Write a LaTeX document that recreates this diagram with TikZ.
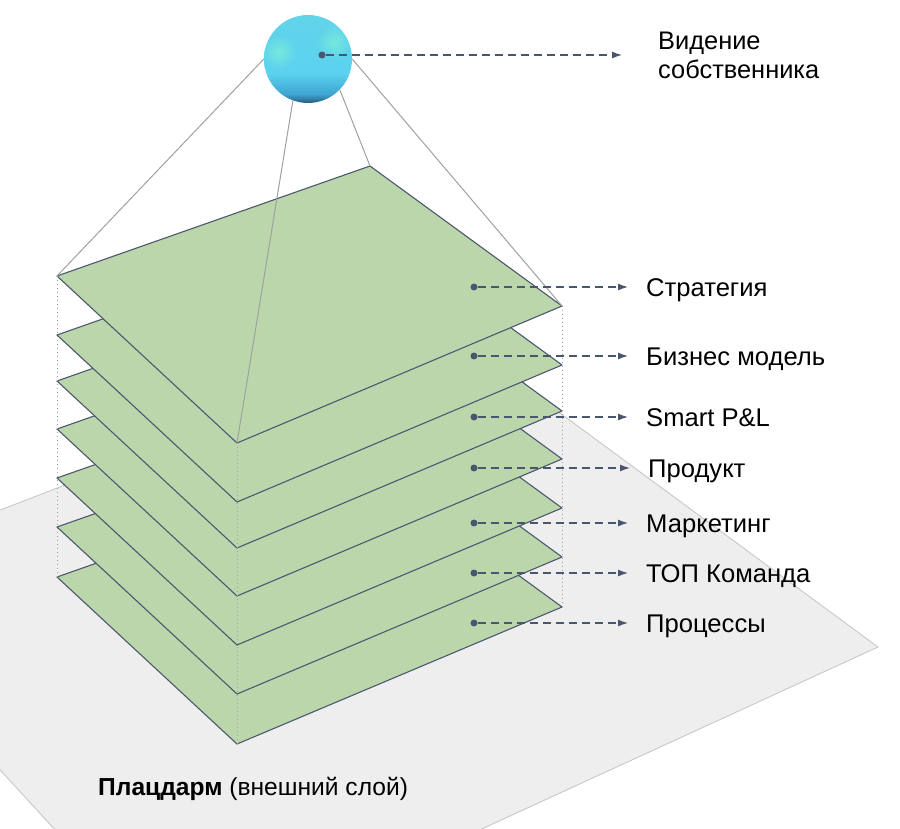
\documentclass[tikz,border=0pt]{standalone}
\usepackage{fontspec}
\setmainfont{Liberation Sans}
\usetikzlibrary{arrows.meta,positioning,fadings}

\definecolor{plate}{RGB}{188,214,171}
\definecolor{plateedge}{RGB}{75,88,112}
\definecolor{basegray}{RGB}{238,238,238}
\definecolor{baseedge}{RGB}{200,200,200}
\definecolor{wiregray}{RGB}{160,160,160}
\definecolor{pointercol}{RGB}{74,85,110}
\definecolor{sphtop}{RGB}{98,212,234}
\definecolor{sphmid}{RGB}{92,210,240}
\definecolor{sphlow}{RGB}{62,165,208}
\definecolor{sphdark}{RGB}{38,92,130}
\definecolor{sphglow}{RGB}{125,238,215}
\pgfdeclareverticalshading{spherefill}{100bp}{color(0bp)=(sphdark); color(25bp)=(sphdark); color(30bp)=(sphlow); color(42bp)=(sphmid); color(75bp)=(sphtop); color(100bp)=(sphtop)}
\tikzfading[name=glowfade,inner color=transparent!0,outer color=transparent!100]

\begin{document}
\begin{tikzpicture}[x=1pt,y=-1pt,
    plane/.style={fill=plate,draw=plateedge,line width=1.1pt,line join=round},
    wire/.style={draw=wiregray,line width=1pt},
    guide/.style={draw=wiregray,line width=0.9pt,dash pattern=on 1.2pt off 2.8pt},
    pointer/.style={draw=pointercol,line width=1.2pt,dash pattern=on 8pt off 5pt,
        -{Latex[length=10pt,width=7pt]},shorten >=18pt},
    dot/.style={circle,fill=pointercol,inner sep=0,minimum size=7pt},
    lbl/.style={anchor=west,inner sep=0,text height=18.2pt,text depth=0pt,
        font=\fontsize{25.6}{29}\selectfont}]
    \useasboundingbox (0,0) rectangle (900,828);

    % base plane
    \begin{scope}
        \clip (0,0) rectangle (900,828);
        \draw[fill=basegray,draw=baseedge,line width=0.9pt] (-176,578) -- (454,335) -- (878,647) -- (181,967) -- cycle;
    \end{scope}

    % layers, lowest first
    \foreach \dy in {301,251,202,153,105,59,0}
        \draw[plane] (57,276+\dy) -- (370,166+\dy) -- (562,306+\dy) -- (237,443+\dy) -- cycle;

    \coordinate (tl) at (57,276);
    \coordinate (tt) at (370,166);
    \coordinate (tr) at (562,306);
    \coordinate (tb) at (237,443);
    \coordinate (bl) at (57,577);
    \coordinate (br) at (562,607);
    \coordinate (bb) at (237,744);

    \draw[guide] (tl) -- (bl);
    \draw[guide] (tb) -- (bb);
    \draw[guide] (tr) -- (br);

    % sphere
    \node[circle,inner sep=0,minimum size=88pt] (eye) at (308,59) {};
    \draw[wire] (eye.west) -- (tl);
    \draw[wire] (eye.-110) -- (tb);
    \draw[wire] (eye.-44) -- (tt);
    \draw[wire] (eye.east) -- (tr);
    \shade[shading=spherefill] (eye.center) circle (44pt);
    \fill[sphglow,opacity=0.8,path fading=glowfade] (279,52) circle (17pt);
    \fill[sphglow,opacity=0.8,path fading=glowfade] (334,42) circle (17pt);

    % labels
    \node[dot] (vdot) at (322,55) {};
    \node[lbl,text height=,align=left,font=\fontsize{25.4}{29}\selectfont] (vision) at (658,55) {Видение\\собственника};
    \draw[pointer,shorten >=36pt] (vdot) -- (vision.west);

    \node[dot] (d1) at (474,287) {};
    \node[dot] (d2) at (474,356) {};
    \node[dot] (d3) at (474,417) {};
    \node[dot] (d4) at (474,468) {};
    \node[dot] (d5) at (474,523) {};
    \node[dot] (d6) at (474,573) {};
    \node[dot] (d7) at (474,623) {};

    \node[lbl] (l1) at (646,287) {Стратегия};
    \node[lbl] (l2) at (646,356) {Бизнес модель};
    \node[lbl] (l3) at (646,417) {Smart P\&L};
    \node[lbl] (l4) at (648,468) {Продукт};
    \node[lbl] (l5) at (646,523) {Маркетинг};
    \node[lbl] (l6) at (646,573) {ТОП Команда};
    \node[lbl] (l7) at (646,623) {Процессы};

    \foreach \i in {1,...,7}
        \draw[pointer] (d\i) -- (l\i.west);

    \node[lbl,text height=17.5pt,font=\fontsize{24.6}{28}\selectfont] (base) at (98,787) {\textbf{Плацдарм} (внешний слой)};
\end{tikzpicture}
\end{document}
